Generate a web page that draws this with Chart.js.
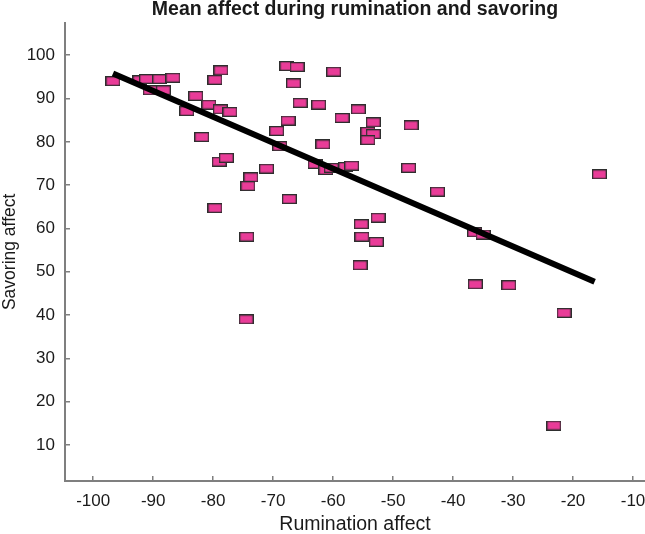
<!DOCTYPE html>
<html>
<head>
<meta charset="utf-8">
<script src="https://cdn.jsdelivr.net/npm/chart.js@4.4.1/dist/chart.umd.min.js"></script>
<style>
  html, body { margin: 0; padding: 0; background: #fff; }
  #wrap { width: 645px; height: 534px; }
</style>
</head>
<body>
<div id="wrap"><canvas id="chart" width="645" height="534"></canvas></div>
<script>
// Rumination affect (x) and savoring affect (y), one entry per participant
const rumination = [
  -96.7, -92.2, -91.1, -88.9, -86.7, -90.5, -88.3, -78.7, -79.7, -82.9,
  -84.4, -80.7, -78.8, -77.2, -81.9, -79.0, -77.8, -71.1, -73.7, -74.2,
  -69.4, -68.9, -67.7, -66.0, -59.9, -66.6, -65.5, -62.4, -55.8, -58.5,
  -67.5, -53.3, -47.0, -54.2, -53.3, -54.2, -61.7, -63.0, -61.2, -60.3,
  -57.9, -56.9, -47.4, -42.6, -67.3, -79.7, -52.5, -55.3, -55.2, -52.8,
  -74.4, -55.5, -74.5, -36.3, -30.7, -21.5, -23.2, -15.6, -36.4, -35.0,
];
const savoring = [
  94.0, 94.2, 94.5, 94.5, 94.8, 91.9, 91.9, 96.5, 94.3, 90.6,
  87.1, 88.6, 87.5, 86.9, 81.1, 75.4, 76.3, 73.8, 71.8, 69.8,
  82.5, 79.0, 97.5, 97.3, 96.2, 93.5, 89.0, 88.6, 87.5, 85.5,
  84.9, 84.5, 83.8, 82.3, 81.8, 80.4, 79.4, 74.9, 73.5, 74.0,
  74.2, 74.5, 74.0, 68.5, 66.8, 64.7, 62.5, 61.0, 58.1, 56.9,
  58.1, 51.5, 39.0, 47.1, 46.9, 40.5, 14.5, 72.5, 59.1, 58.6,
];

// fitted line end points
const fitX = [-96.7, -16.4];
const fitY = [95.8, 47.7];

const xTicks = [-100, -90, -80, -70, -60, -50, -40, -30, -20, -10];
const yTicks = [10, 20, 30, 40, 50, 60, 70, 80, 90, 100];

const PINK = '#e93c98';
const AXIS = '#7f7f7f';
const TEXT = '#1a1a1a';
const FONT = "'Liberation Sans', Arial, sans-serif";

// rectangular marker
function makeMarker() {
  const c = document.createElement('canvas');
  c.width = 15; c.height = 10;
  const g = c.getContext('2d');
  g.fillStyle = PINK;
  g.fillRect(0, 0, 15, 10);
  g.strokeStyle = '#2e2e2e';
  g.lineWidth = 1.3;
  g.strokeRect(0.65, 0.65, 13.7, 8.7);
  return c;
}

const points = rumination.map((x, i) => ({ x, y: savoring[i] }));
const fitLine = fitX.map((x, i) => ({ x, y: fitY[i] }));

const axisCommon = {
  border: { display: true, color: AXIS, width: 2 },
  grid: { drawOnChartArea: false, drawTicks: true, tickLength: -5, color: AXIS, lineWidth: 1.5 },
};

new Chart(document.getElementById('chart'), {
  type: 'scatter',
  data: {
    datasets: [
      {
        type: 'line', data: fitLine, order: 0,
        borderColor: '#000', borderWidth: 6, pointRadius: 0,
        borderCapStyle: 'butt', fill: false,
      },
      {
        data: points, order: 1,
        pointStyle: makeMarker(), pointRadius: 7,
      },
    ],
  },
  options: {
    responsive: false,
    animation: false,
    layout: { padding: 0, autoPadding: false },
    plugins: {
      legend: { display: false },
      tooltip: { enabled: false },
      title: {
        display: true,
        fullSize: false,
        text: 'Mean affect during rumination and savoring',
        color: TEXT,
        font: { family: FONT, size: 19.5, weight: 'bold', lineHeight: 1 },
        padding: { top: 0, bottom: 3.2 },
      },
    },
    scales: {
      x: {
        ...axisCommon,
        type: 'linear', min: -104.7, max: -8,
        afterFit: s => { s.height = 53; s.paddingLeft = 0; s.paddingRight = 0; },
        afterBuildTicks: s => { s.ticks = xTicks.map(v => ({ value: v })); },
        ticks: { color: TEXT, font: { family: FONT, size: 17 }, padding: 15.5, maxRotation: 0, autoSkip: false },
        title: {
          display: true, text: 'Rumination affect', color: TEXT,
          font: { family: FONT, size: 19.5, lineHeight: 1 }, padding: { top: 0, bottom: 0 },
        },
      },
      y: {
        ...axisCommon,
        type: 'linear', min: 1.7, max: 107.5,
        afterFit: s => { s.width = 65; s.paddingTop = 0; s.paddingBottom = 0; },
        afterBuildTicks: s => { s.ticks = yTicks.map(v => ({ value: v })); },
        ticks: { color: TEXT, font: { family: FONT, size: 17 }, padding: 15, autoSkip: false },
        title: {
          display: true, text: 'Savoring affect', color: TEXT,
          font: { family: FONT, size: 17.5 }, padding: { top: 0, bottom: 0 },
        },
      },
    },
  },
});
</script>
</body>
</html>
